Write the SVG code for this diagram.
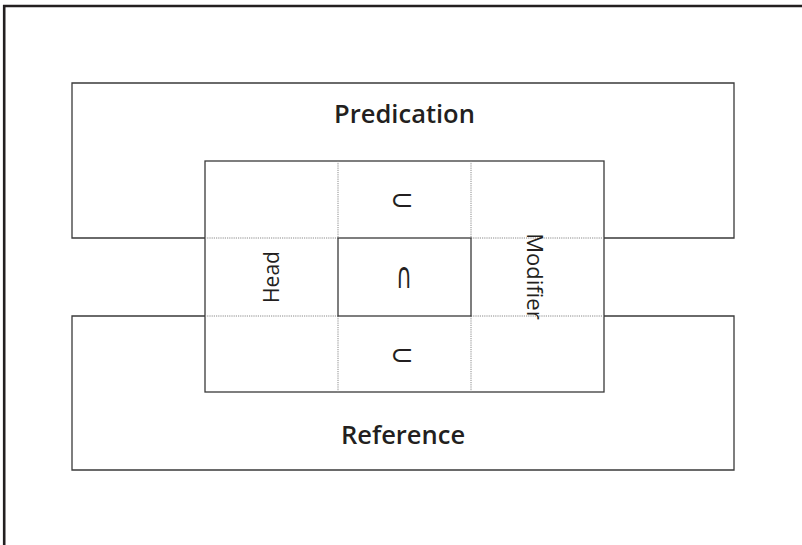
<svg xmlns="http://www.w3.org/2000/svg" width="802" height="545" viewBox="0 0 802 545">
<style>
.frame{fill:none;stroke:#231f20;stroke-width:2.6}
.solid{fill:none;stroke:#3a3a3a;stroke-width:1.3}
.dot{fill:none;stroke:#8a8a8a;stroke-width:1;stroke-dasharray:1.2 1}
.title{font-family:"Open Sans","Noto Sans",sans-serif;font-weight:600;font-size:25.5px;fill:#231f20;text-anchor:middle}
.lab{font-family:"Open Sans","Noto Sans",sans-serif;font-size:21px;fill:#231f20;text-anchor:middle}
.sym{font-family:"DejaVu Sans",sans-serif;font-size:28px;fill:#231f20;text-anchor:middle}
</style>
<rect x="0" y="0" width="802" height="545" fill="#ffffff"/>
<g id="frame"><path class="frame" d="M4.2,545 V6 H802"/></g>
<g id="predication">
<path class="solid" d="M205,238 H72 V83 H734 V238 H604"/>
<text class="title" x="404.5" y="123">Predication</text>
</g>
<g id="reference">
<path class="solid" d="M205,316 H72 V470 H734 V316 H604"/>
<text class="title" x="403" y="444">Reference</text>
</g>
<g id="grid">
<rect class="solid" x="205" y="161" width="399" height="231"/>
</g>
<g id="connectors">
<path class="dot" d="M205,238 H338 M471,238 H604 M205,316 H338 M471,316 H604 M338,161 V238 M338,316 V392 M471,161 V238 M471,316 V392"/>
</g>
<g id="intersection">
<rect class="solid" x="338" y="238" width="133" height="78"/>
<text class="sym" style="font-size:24px" transform="translate(404,287.5) scale(0.9,1.52)">∩</text>
</g>
<g id="head"><text class="lab" transform="translate(279,277) rotate(-90)">Head</text></g>
<g id="modifier"><text class="lab" style="font-size:22px" transform="translate(527,276.5) rotate(90)">Modifier</text></g>
<g id="subset-top"><text class="sym" x="402" y="209">⊂</text></g>
<g id="subset-bottom"><text class="sym" x="402" y="364">⊂</text></g>
</svg>
